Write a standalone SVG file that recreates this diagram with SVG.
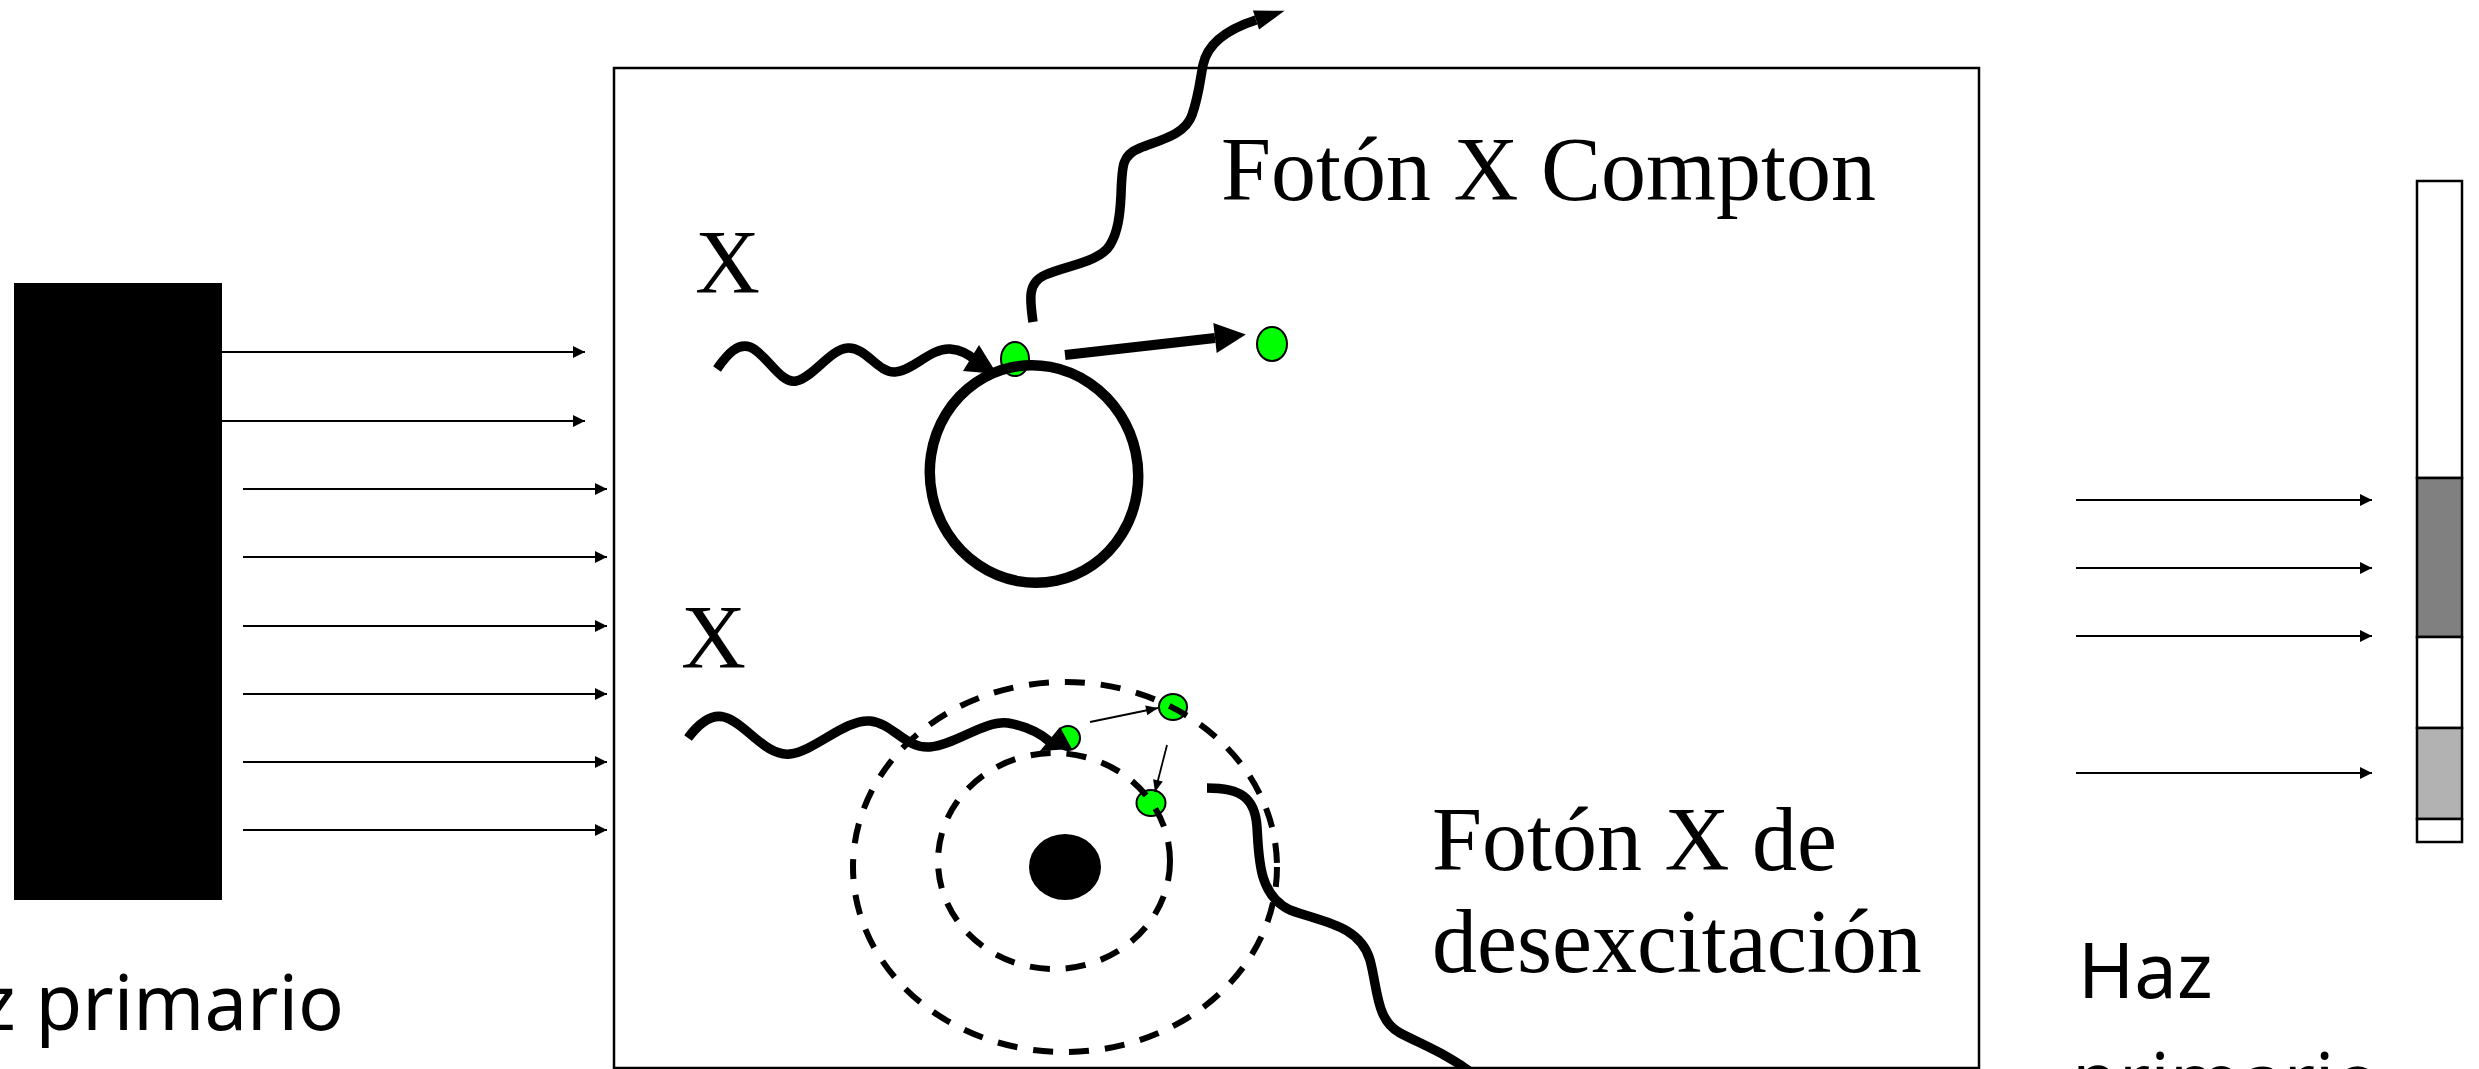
<svg xmlns="http://www.w3.org/2000/svg" width="2479" height="1069" viewBox="0 0 2479 1069">
  <style>
    .beam { fill: none; stroke: #000; stroke-width: 2.2; marker-end: url(#thinHead); }
    .wave { fill: none; stroke: #000; stroke-width: 9.5; stroke-linecap: butt; stroke-linejoin: round; }
    .orbit { fill: none; stroke: #000; stroke-width: 6; stroke-dasharray: 20 16; }
    .electron { fill: #00ff00; stroke: #000; stroke-width: 2; }
    .serif { font-family: "Liberation Serif", "Times New Roman", serif; font-size: 90px; fill: #000; }
    .hand { font-family: "Comic Sans MS", "Noto Sans", sans-serif; font-size: 76px; fill: #000; }
  </style>
  <defs>
    <marker id="thinHead" markerUnits="userSpaceOnUse" markerWidth="13" markerHeight="13" refX="12" refY="6" orient="auto" overflow="visible">
      <path d="M0,0 L12,6 L0,12 z" fill="#000"/>
    </marker>
    <marker id="smallHead" markerUnits="userSpaceOnUse" markerWidth="13" markerHeight="11" refX="12" refY="5" orient="auto" overflow="visible">
      <path d="M0,0 L12,5 L0,10 z" fill="#000"/>
    </marker>
    <marker id="boldHead" markerUnits="userSpaceOnUse" markerWidth="32" markerHeight="32" refX="0" refY="16" orient="auto" overflow="visible">
      <path d="M0,1 L31,16 L0,31 z" fill="#000"/>
    </marker>
    <marker id="photonHead" markerUnits="userSpaceOnUse" markerWidth="32" markerHeight="22" refX="0" refY="10" orient="auto" overflow="visible">
      <path d="M0,0 L30,10 L0,20 z" fill="#000"/>
    </marker>
  </defs>

  <rect width="2479" height="1069" fill="#fff"/>

  <!-- X-ray source -->
  <g id="source">
    <rect x="14" y="283" width="208" height="617" fill="#000"/>
  </g>

  <!-- absorbing medium -->
  <g id="medium">
    <rect x="614" y="68" width="1365" height="1000" fill="none" stroke="#000" stroke-width="2.5"/>
  </g>

  <!-- Compton interaction: loosely bound electron -->
  <g id="compton-atom">
    <ellipse class="electron" cx="1015" cy="359" rx="14" ry="17"/>
    <ellipse cx="1034" cy="474" rx="104" ry="109" fill="none" stroke="#000" stroke-width="10.5" transform="rotate(-12 1034 474)"/>
    <ellipse class="electron" cx="1272" cy="344" rx="15" ry="17"/>
  </g>

  <!-- photoelectric interaction: inner shell atom -->
  <g id="photo-atom">
    <ellipse class="electron" cx="1068" cy="738" rx="12" ry="12"/>
    <ellipse class="electron" cx="1173" cy="707" rx="14" ry="13"/>
    <ellipse class="electron" cx="1151" cy="803" rx="14.5" ry="13"/>
    <ellipse class="orbit" cx="1065" cy="867" rx="212" ry="185"/>
    <ellipse class="orbit" cx="1054" cy="861" rx="116" ry="108"/>
    <ellipse cx="1065" cy="867" rx="36" ry="33" fill="#000"/>
  </g>

  <!-- image receptor with transmitted pattern -->
  <g id="detector">
    <rect x="2417" y="181" width="45" height="297" fill="#fff" stroke="#000" stroke-width="2.5"/>
    <rect x="2417" y="478" width="45" height="159" fill="#808080" stroke="#000" stroke-width="2.5"/>
    <rect x="2417" y="637" width="45" height="91" fill="#fff" stroke="#000" stroke-width="2.5"/>
    <rect x="2417" y="728" width="45" height="91" fill="#b2b2b2" stroke="#000" stroke-width="2.5"/>
    <rect x="2417" y="819" width="45" height="23" fill="#fff" stroke="#000" stroke-width="2.5"/>
  </g>

  <g id="connectors">
    <!-- primary beam -->
    <line class="beam" x1="222" y1="352" x2="585" y2="352"/>
    <line class="beam" x1="222" y1="421" x2="585" y2="421"/>
    <line class="beam" x1="243" y1="489" x2="607" y2="489"/>
    <line class="beam" x1="243" y1="557" x2="607" y2="557"/>
    <line class="beam" x1="243" y1="626" x2="607" y2="626"/>
    <line class="beam" x1="243" y1="694" x2="607" y2="694"/>
    <line class="beam" x1="243" y1="762" x2="607" y2="762"/>
    <line class="beam" x1="243" y1="830" x2="607" y2="830"/>

    <!-- transmitted beam -->
    <line class="beam" x1="2076" y1="500" x2="2372" y2="500"/>
    <line class="beam" x1="2076" y1="568" x2="2372" y2="568"/>
    <line class="beam" x1="2076" y1="636" x2="2372" y2="636"/>
    <line class="beam" x1="2076" y1="773" x2="2372" y2="773"/>

    <!-- incident photon, Compton -->
    <path class="wave" d="M717,369 C728,353 738,343 750,347 C766,353 780,384 796,381 C813,378 830,349 848,348 C866,347 878,373 895,372 C913,371 930,348 950,349 C962,350 970,355 976,361"/>
    <polygon points="963,371 979,345 997,374" fill="#000"/>

    <!-- scattered photon -->
    <path class="wave" d="M1033,322 C1030,300 1027,283 1045,275 C1065,266 1100,262 1110,245 C1118,232 1120,215 1121,195 C1122,165 1122,155 1140,148 C1160,140 1185,135 1192,115 C1199,95 1200,80 1203,65 C1207,45 1225,30 1256,20" marker-end="url(#photonHead)"/>

    <!-- recoil electron -->
    <line x1="1065" y1="355" x2="1215" y2="338" stroke="#000" stroke-width="10" marker-end="url(#boldHead)"/>

    <!-- incident photon, photoelectric -->
    <path class="wave" d="M688,738 C700,722 712,714 724,717 C745,722 765,757 790,754 C815,751 845,719 870,721 C893,723 905,749 930,747 C955,745 985,720 1008,723 C1025,726 1037,731 1049,741"/>
    <polygon points="1040,751 1060,727 1072,749" fill="#000"/>

    <!-- cascade of outer electron into vacancy -->
    <line x1="1090" y1="722" x2="1158" y2="708" stroke="#000" stroke-width="1.8" marker-end="url(#smallHead)"/>
    <line x1="1167" y1="745" x2="1155" y2="792" stroke="#000" stroke-width="1.8" marker-end="url(#smallHead)"/>

    <!-- characteristic photon -->
    <path class="wave" d="M1207,788 C1240,788 1255,797 1257,827 C1259,857 1258,895 1290,910 C1322,922 1360,925 1370,960 C1378,990 1376,1020 1400,1033 C1425,1046 1452,1056 1478,1078"/>
  </g>

  <g id="labels">
    <text class="serif" x="695" y="293">X</text>
    <text class="serif" x="1221" y="200">Fotón X Compton</text>
    <text class="serif" x="681" y="668">X</text>
    <text class="serif" x="1432" y="870">Fotón X de</text>
    <text class="serif" x="1432" y="972">desexcitación</text>
    <text class="hand" x="344" y="1030" text-anchor="end">Haz primario</text>
    <text class="hand" x="2078" y="998">Haz</text>
    <text class="hand" x="2072" y="1108">primario</text>
  </g>
</svg>
